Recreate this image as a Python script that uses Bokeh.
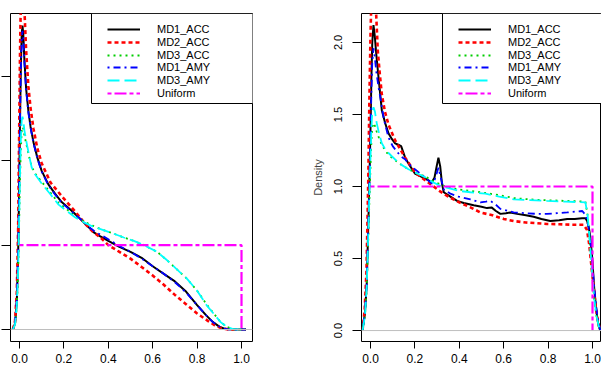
from bokeh.plotting import figure
from bokeh.layouts import row
from bokeh.models import (Range1d, FixedTicker, PrintfTickFormatter, CustomJSTickFormatter, Span, Label,
                          BoxAnnotation, Legend, LegendItem)
from bokeh.embed import file_html
from bokeh.resources import INLINE

# ---------------- data ----------------
series_names = ["MD1_ACC", "MD2_ACC", "MD3_ACC", "MD1_AMY", "MD3_AMY", "Uniform"]
title_text = "under null"
right_ylabel = "Density"
x_ticks = [0.0, 0.2, 0.4, 0.6, 0.8, 1.0]
left_y_ticks = [0, 1, 2, 3]
right_y_ticks = [0.0, 0.5, 1.0, 1.5, 2.0]

# left panel
L_md1acc_x = [-0.03, -0.02, -0.012, -0.006, -0.002, 0.002, 0.006, 0.010, 0.0135, 0.017, 0.022, 0.03, 0.04,
              0.05, 0.063, 0.08, 0.10, 0.13, 0.16, 0.19, 0.23, 0.27, 0.30, 0.32, 0.335, 0.36, 0.40, 0.45,
              0.50, 0.55, 0.60, 0.65, 0.70, 0.75, 0.80, 0.84, 0.87, 0.90, 0.92, 0.94, 0.97, 1.0, 1.02]
L_md1acc_y = [0.0, 0.07, 0.34, 0.9, 1.6, 2.4, 3.1, 3.5, 3.60, 3.5, 3.2, 2.85, 2.59, 2.40, 2.22, 2.04, 1.88,
              1.72, 1.61, 1.51, 1.42, 1.32, 1.24, 1.19, 1.15, 1.11, 1.05, 0.98, 0.92, 0.85, 0.75, 0.66,
              0.57, 0.45, 0.29, 0.17, 0.09, 0.035, 0.012, 0.002, 0.0, 0.0, 0.0]
L_md1amy_x = L_md1acc_x
L_md1amy_y = [0.0, 0.08, 0.36, 0.92, 1.62, 2.4, 3.05, 3.45, 3.54, 3.45, 3.17, 2.83, 2.57, 2.39, 2.21, 2.03,
              1.87, 1.71, 1.60, 1.50, 1.41, 1.32, 1.25, 1.20, 1.17, 1.13, 1.07, 0.99, 0.92, 0.84, 0.75,
              0.66, 0.56, 0.44, 0.29, 0.17, 0.09, 0.035, 0.012, 0.002, 0.0, 0.0, 0.0]
L_md2acc_x = [-0.03, -0.02, -0.012, -0.006, -0.002, 0.002, 0.006, 0.010, 0.0135, 0.017, 0.022, 0.03, 0.04,
              0.05, 0.063, 0.08, 0.10, 0.14, 0.20, 0.25, 0.30, 0.33, 0.365, 0.40, 0.45, 0.50, 0.55, 0.60,
              0.65, 0.70, 0.75, 0.80, 0.85, 0.88, 0.91, 0.94, 0.97, 1.0, 1.02]
L_md2acc_y = [0.0, 0.1, 0.45, 1.2, 2.2, 3.2, 3.9, 4.25, 4.3, 4.15, 3.8, 3.3, 2.88, 2.62, 2.38, 2.15, 1.97,
              1.74, 1.55, 1.40, 1.24, 1.16, 1.09, 1.00, 0.92, 0.84, 0.74, 0.64, 0.53, 0.41, 0.30, 0.19,
              0.10, 0.05, 0.015, 0.002, 0.0, 0.0, 0.0]
L_md3_x = [-0.03, -0.02, -0.012, -0.006, -0.002, 0.002, 0.006, 0.010, 0.0135, 0.017, 0.022, 0.033, 0.045,
           0.055, 0.07, 0.10, 0.14, 0.176, 0.215, 0.25, 0.29, 0.33, 0.365, 0.42, 0.47, 0.515, 0.56, 0.62,
           0.665, 0.71, 0.755, 0.80, 0.845, 0.875, 0.905, 0.935, 0.965, 1.0, 1.02]
L_md3amy_y = [0.0, 0.06, 0.28, 0.7, 1.25, 1.8, 2.25, 2.48, 2.52, 2.48, 2.36, 2.2, 2.04, 1.92, 1.84, 1.73,
              1.60, 1.48, 1.40, 1.33, 1.27, 1.22, 1.19, 1.14, 1.09, 1.05, 1.00, 0.92, 0.82, 0.71, 0.60,
              0.46, 0.28, 0.186, 0.09, 0.03, 0.003, 0.0, 0.0]
L_md3acc_y = [0.0, 0.06, 0.27, 0.68, 1.2, 1.72, 2.12, 2.35, 2.40, 2.38, 2.30, 2.17, 2.03, 1.93, 1.85, 1.75,
              1.62, 1.50, 1.42, 1.35, 1.28, 1.23, 1.19, 1.14, 1.09, 1.05, 1.00, 0.92, 0.82, 0.71, 0.60,
              0.46, 0.29, 0.19, 0.09, 0.03, 0.003, 0.0, 0.0]
uniform_x = [0.0, 1.0, 1.0]
uniform_y = [1.0, 1.0, 0.0]

# right panel
R_md1acc_x = [-0.036, -0.025, -0.017, -0.009, -0.004, 0.0, 0.004, 0.008, 0.0135, 0.019, 0.026, 0.036, 0.051,
              0.066, 0.081, 0.096, 0.111, 0.125, 0.138, 0.147, 0.156, 0.175, 0.20, 0.24, 0.276, 0.288,
              0.298, 0.306, 0.314, 0.322, 0.33, 0.36, 0.39, 0.42, 0.465, 0.50, 0.525, 0.545, 0.565, 0.585,
              0.61, 0.63, 0.66, 0.70, 0.735, 0.77, 0.81, 0.85, 0.886, 0.92, 0.953, 0.968, 0.976, 0.984,
              0.99, 1.0, 1.006, 1.014, 1.021, 1.028, 1.035]
R_md1acc_y = [0.0, 0.12, 0.32, 0.79, 1.1, 1.4, 1.75, 2.0, 2.12, 2.05, 1.92, 1.76, 1.53, 1.44, 1.37, 1.33,
              1.30, 1.29, 1.28, 1.24, 1.20, 1.15, 1.09, 1.06, 1.03, 1.06, 1.14, 1.20, 1.14, 1.02, 0.96,
              0.93, 0.90, 0.885, 0.87, 0.86, 0.85, 0.855, 0.83, 0.81, 0.815, 0.82, 0.81, 0.80, 0.79,
              0.775, 0.76, 0.765, 0.775, 0.775, 0.78, 0.78, 0.76, 0.71, 0.65, 0.48, 0.32, 0.19, 0.09,
              0.03, 0.0]
R_md1amy_x = [-0.036, -0.025, -0.017, -0.009, -0.004, 0.0, 0.004, 0.008, 0.0135, 0.019, 0.026, 0.036, 0.044,
              0.06, 0.081, 0.10, 0.126, 0.145, 0.156, 0.17, 0.20, 0.24, 0.276, 0.29, 0.306, 0.32, 0.33,
              0.36, 0.396, 0.45, 0.495, 0.52, 0.54, 0.56, 0.585, 0.62, 0.645, 0.70, 0.75, 0.795, 0.84,
              0.886, 0.92, 0.954, 0.97, 0.982, 0.992, 1.0, 1.008, 1.016, 1.024, 1.035]
R_md1amy_y = [0.0, 0.12, 0.32, 0.78, 1.08, 1.35, 1.65, 1.86, 1.96, 1.90, 1.80, 1.69, 1.62, 1.47, 1.34, 1.28,
              1.23, 1.20, 1.19, 1.16, 1.12, 1.07, 1.02, 1.05, 1.13, 1.04, 0.98, 0.95, 0.93, 0.91, 0.89,
              0.895, 0.90, 0.88, 0.845, 0.83, 0.82, 0.815, 0.81, 0.81, 0.815, 0.82, 0.825, 0.83, 0.80,
              0.72, 0.60, 0.45, 0.30, 0.17, 0.08, 0.0]
R_md2acc_x = [-0.036, -0.026, -0.018, -0.01, -0.005, 0.0, 0.004, 0.008, 0.0135, 0.019, 0.026, 0.033, 0.042,
              0.051, 0.065, 0.081, 0.111, 0.156, 0.20, 0.24, 0.276, 0.31, 0.35, 0.40, 0.45, 0.495, 0.55,
              0.60, 0.645, 0.70, 0.75, 0.795, 0.85, 0.90, 0.96, 0.975, 0.985, 0.995, 1.005, 1.015, 1.025,
              1.035]
R_md2acc_y = [0.0, 0.15, 0.42, 1.05, 1.6, 2.05, 2.3, 2.45, 2.48, 2.38, 2.18, 1.94, 1.78, 1.64, 1.52, 1.43,
              1.32, 1.20, 1.10, 1.05, 1.01, 0.97, 0.93, 0.89, 0.855, 0.82, 0.80, 0.775, 0.76, 0.75, 0.745,
              0.74, 0.738, 0.735, 0.735, 0.70, 0.60, 0.45, 0.30, 0.16, 0.06, 0.0]
R_md3_x = [-0.036, -0.025, -0.017, -0.009, -0.004, 0.0, 0.004, 0.008, 0.0135, 0.02, 0.028, 0.04, 0.051,
           0.07, 0.096, 0.13, 0.171, 0.21, 0.246, 0.28, 0.321, 0.36, 0.396, 0.45, 0.517, 0.58, 0.645,
           0.72, 0.795, 0.88, 0.968, 0.978, 0.988, 0.998, 1.008, 1.018, 1.028, 1.04]
R_md3amy_y = [0.0, 0.10, 0.30, 0.72, 1.0, 1.2, 1.4, 1.52, 1.55, 1.52, 1.44, 1.36, 1.30, 1.25, 1.21, 1.16,
              1.12, 1.09, 1.065, 1.03, 1.0, 0.985, 0.97, 0.96, 0.95, 0.93, 0.91, 0.905, 0.90, 0.895, 0.89,
              0.80, 0.62, 0.40, 0.22, 0.10, 0.03, 0.0]
R_md3acc_y = [0.0, 0.10, 0.29, 0.68, 0.95, 1.13, 1.31, 1.41, 1.44, 1.42, 1.38, 1.33, 1.29, 1.24, 1.20, 1.16,
              1.12, 1.09, 1.07, 1.04, 1.01, 0.99, 0.98, 0.97, 0.955, 0.94, 0.92, 0.91, 0.905, 0.90, 0.895,
              0.80, 0.62, 0.40, 0.22, 0.10, 0.03, 0.0]

left_series = [(L_md1acc_x, L_md1acc_y), (L_md2acc_x, L_md2acc_y), (L_md3_x, L_md3acc_y),
               (L_md1amy_x, L_md1amy_y), (L_md3_x, L_md3amy_y), (uniform_x, uniform_y)]
right_series = [(R_md1acc_x, R_md1acc_y), (R_md2acc_x, R_md2acc_y), (R_md3_x, R_md3acc_y),
                (R_md1amy_x, R_md1amy_y), (R_md3_x, R_md3amy_y), (uniform_x, uniform_y)]

# ---------------- styles ----------------
colors = ["black", "#FF0000", "#00CD00", "#0000FF", "#00FFFF", "#FF00FF"]
dashes = ["solid", "4 3", "2 4", "2 4 7 4", "12 5", "4 3 12 3"]
widths = [2, 2.6, 1.8, 1.8, 1.8, 2.2]
FONT = "Liberation Sans"
FRAME_H = 328
LEGEND_ROW_PITCH = 12.8     # px between legend rows
LEGEND_FIRST_ROW = 16       # px from frame top used to place the first row
ITEM_H = 12


def make_panel(series, x_range, y_range, frame_w, b_left, b_right, y_ticks, show_ylabels):
    p = figure(frame_width=frame_w, frame_height=FRAME_H, x_range=Range1d(*x_range),
               y_range=Range1d(*y_range), output_backend="svg", toolbar_location=None,
               min_border_left=b_left, min_border_right=b_right, min_border_top=13,
               min_border_bottom=29)
    p.xgrid.visible = False
    p.ygrid.visible = False
    p.outline_line_color = "black"
    p.outline_line_alpha = 1
    p.background_fill_color = "white"
    p.border_fill_color = "white"

    p.add_layout(Span(location=0, dimension="width", line_color="#BEBEBE", line_width=1))

    renderers = []
    for (xs, ys), c, d, w in zip(series, colors, dashes, widths):
        r = p.line(xs, ys, line_color=c, line_dash=d, line_width=w)
        renderers.append(r)

    xa = p.xaxis[0]
    xa.ticker = FixedTicker(ticks=x_ticks)
    xa.formatter = PrintfTickFormatter(format="%.1f")
    ya = p.yaxis[0]
    ya.ticker = FixedTicker(ticks=y_ticks)
    for ax in (xa, ya):
        ax.axis_line_color = None
        ax.major_tick_in = 0
        ax.minor_tick_line_color = None
        ax.major_tick_line_color = "black"
        ax.major_label_text_font = FONT
        ax.major_label_text_color = "black"
    xa.major_tick_out = 7
    xa.major_label_standoff = 5
    xa.major_label_text_font_size = "12px"
    ya.major_tick_out = 9
    if show_ylabels:
        ya.formatter = PrintfTickFormatter(format="%.1f")
        ya.major_label_text_font_size = "11px"
        ya.major_label_orientation = "vertical"
        ya.major_label_standoff = 10
        ya.axis_label = right_ylabel
        ya.axis_label_text_font = FONT
        ya.axis_label_text_font_size = "11px"
        ya.axis_label_text_font_style = "normal"
        ya.axis_label_standoff = 8
    else:
        # the tick labels of this panel lie outside the picture
        ya.formatter = CustomJSTickFormatter(code="return ''")
        ya.major_label_standoff = 0

    # title (mostly cut off at the top, as in the reference)
    p.add_layout(Label(x=frame_w / 2, y=FRAME_H + 7, x_units="screen", y_units="screen",
                       text=title_text, text_align="center", text_baseline="alphabetic",
                       text_font=FONT, text_font_size="16px", text_font_style="bold",
                       text_color="black"))

    # legend box
    p.add_layout(BoxAnnotation(left=81, right=frame_w + 2, top=FRAME_H, bottom=FRAME_H - 90,
                               left_units="screen", right_units="screen", top_units="screen",
                               bottom_units="screen", fill_color="white", fill_alpha=1,
                               line_color="black", line_width=1, line_alpha=1))
    # one legend entry per row, so that the row pitch is exact
    for i, (n, r) in enumerate(zip(series_names, renderers)):
        centre_from_bottom = FRAME_H - (LEGEND_FIRST_ROW + i * LEGEND_ROW_PITCH)
        legend = Legend(items=[LegendItem(label=n, renderers=[r])],
                        location=(97, round(centre_from_bottom - ITEM_H / 2)), padding=0, margin=0,
                        spacing=0, glyph_width=33, glyph_height=ITEM_H, label_height=ITEM_H,
                        label_standoff=17, label_text_font=FONT, label_text_font_size="11px",
                        label_text_color="black", border_line_color=None, background_fill_alpha=0)
        p.add_layout(legend)
    return p


p1 = make_panel(left_series, (-0.0405, 1.0495), (-0.142, 3.744), 242, 10, 48, left_y_ticks, False)
p2 = make_panel(right_series, (-0.0405, 1.0405), (-0.076, 2.201), 240, 61, 0, right_y_ticks, True)

layout = row(p1, p2)
with open("out.html", "w") as f:
    f.write(file_html(layout, INLINE))
